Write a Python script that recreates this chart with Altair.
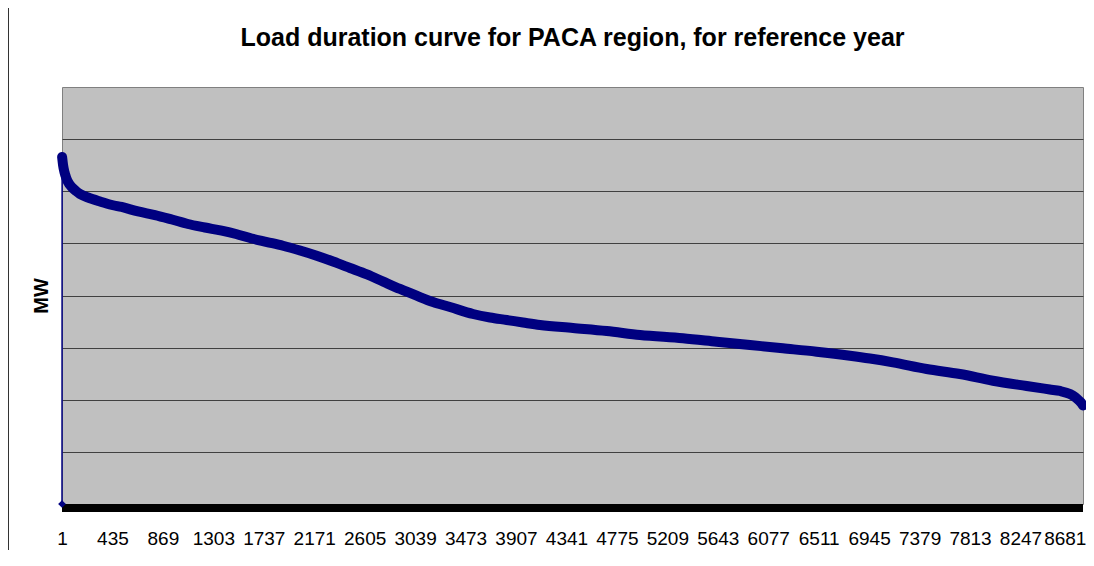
import altair as alt
import pandas as pd

# Hour of year (sorted load duration index) and load in MW
hours = [1, 2, 10, 22, 35, 53, 84, 121, 156, 225,
         328, 431, 514, 655, 801, 947, 1085, 1231, 1375, 1498,
         1633, 1765, 1902, 2049, 2192, 2333, 2479, 2625, 2765, 2909,
         3052, 3193, 3339, 3537, 3683, 3827, 3967, 4113, 4397, 4687,
         4974, 5343, 5633, 5920, 6203, 6493, 6780, 6952, 7150, 7440,
         7726, 8010, 8300, 8500, 8587, 8673, 8716, 8750, 8771, 8785]
load_mw = [0, 6657, 6504, 6369, 6273, 6177, 6082, 6005, 5947, 5880,
           5803, 5736, 5698, 5612, 5544, 5458, 5372, 5305, 5243, 5180,
           5094, 5026, 4955, 4863, 4763, 4652, 4528, 4403, 4265, 4125,
           3996, 3875, 3779, 3645, 3578, 3530, 3482, 3434, 3377, 3319,
           3242, 3179, 3114, 3050, 2987, 2922, 2845, 2791, 2718, 2590,
           2494, 2365, 2264, 2197, 2168, 2110, 2053, 1986, 1938, 1890]

x_tick_labels = [1, 435, 869, 1303, 1737, 2171, 2605, 3039, 3473, 3907, 4341,
                 4775, 5209, 5643, 6077, 6511, 6945, 7379, 7813, 8247, 8681]
grid_values = [1000, 2000, 3000, 4000, 5000, 6000, 7000]

W, H = 1021, 417
NAVY = "#000080"
FONT = "Liberation Sans"

df = pd.DataFrame({"hour": hours, "mw": load_mw})
df_curve = df.iloc[1:]
df_first = df.iloc[:1]

x_enc = alt.X("hour:Q",
              scale=alt.Scale(domain=[1, 8785], nice=False, zero=False),
              axis=alt.Axis(values=x_tick_labels, title=None, ticks=False, tickSize=0,
                            domain=False, grid=False, labelFontSize=19, labelFont=FONT,
                            labelColor="black", labelPadding=25, labelOverlap=False,
                            labelFlush=False, format="d",
                            labelAlign=alt.expr("datum.value >= 8681 ? 'right' : 'center'"),
                            labelOffset=alt.expr("datum.value >= 8681 ? 15 : 0")))
y_enc = alt.Y("mw:Q",
              scale=alt.Scale(domain=[0, 8000], nice=False),
              axis=alt.Axis(values=grid_values, title="MW", labels=False, ticks=False,
                            domain=False, grid=True, gridColor="#404040", gridWidth=1,
                            titleFontSize=20, titleFont=FONT, titleFontWeight="bold",
                            titleColor="black", titleAngle=270, titleX=-21, titleY=H / 2,
                            titleAlign="center", titleBaseline="middle"))

thin = alt.Chart(df).mark_line(color=NAVY, strokeWidth=1.5).encode(x=x_enc, y=y_enc)
thick = alt.Chart(df_curve).mark_line(color=NAVY, strokeWidth=10, strokeCap="round",
                                      strokeJoin="round", interpolate="monotone").encode(
    x="hour:Q", y="mw:Q")
band = alt.Chart(df_first).mark_rect(color="black").encode(
    x=alt.value(0), x2=alt.value(W), y=alt.value(H), y2=alt.value(H + 8))
first_pt = alt.Chart(df_first).mark_point(shape="diamond", filled=True, color=NAVY,
                                          size=60, opacity=1).encode(x="hour:Q", y="mw:Q")
border = alt.Chart(df_first).mark_rule(color="#333333", strokeWidth=1).encode(
    x=alt.value(-53.5), y=alt.value(-79), y2=alt.value(H + 60))

chart = alt.layer(thin, thick, band, first_pt, border).properties(
    width=W, height=H,
    background="white",
    autosize=alt.AutoSizeParams(type="none"),
    padding={"left": 54, "top": 79, "right": 3, "bottom": 46},
    title=alt.TitleParams("Load duration curve for PACA region, for reference year",
                          font=FONT, fontSize=25, fontWeight="bold", color="black",
                          anchor="middle", offset=-43),
).configure_view(fill="#C0C0C0", stroke="#808080", strokeWidth=1)

chart.save("out.html", embed_options={"renderer": "svg", "actions": False})
